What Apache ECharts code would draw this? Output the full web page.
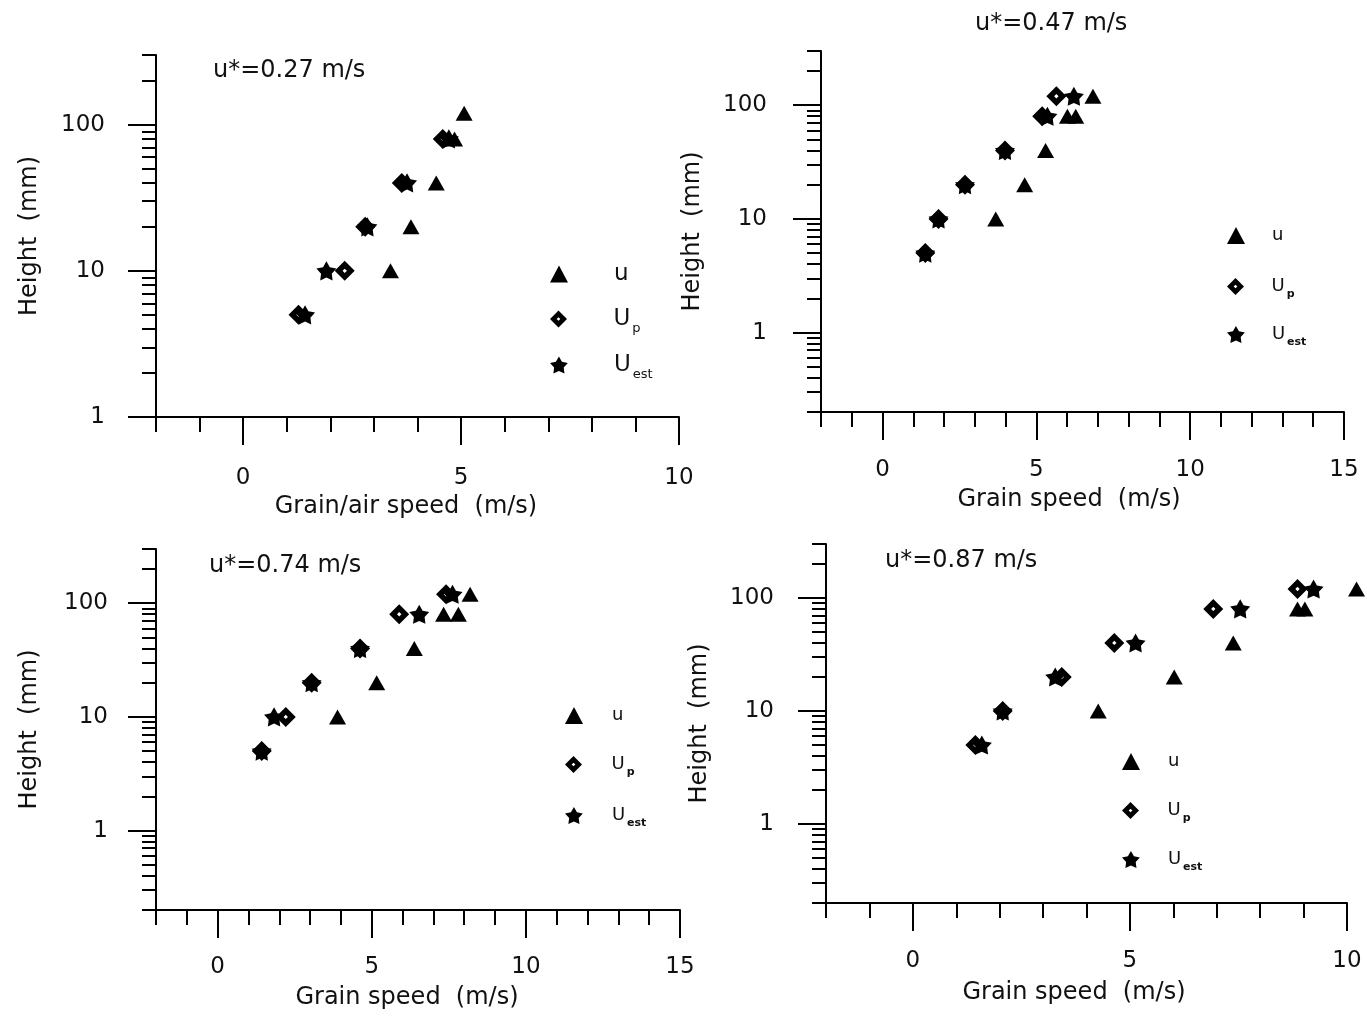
<!DOCTYPE html>
<html><head><meta charset="utf-8">
<script src="https://cdn.jsdelivr.net/npm/echarts@6/dist/echarts.min.js"></script>
<style>html,body{margin:0;padding:0;background:#fff}#c{width:1367px;height:1016px}</style>
</head><body><div id="c"></div>
<script>
// ---------------- DATA ----------------
// [speed (m/s), height (mm)]
// Panel 1: u* = 0.27 m/s
const p1_u    = [[3.38,10],[3.85,20],[4.43,40],[4.85,80],[5.07,120]];
const p1_Up   = [[1.27,5],[2.33,10],[2.80,20],[3.64,40],[4.58,80]];
const p1_Uest = [[1.42,5],[1.91,10],[2.85,20],[3.76,40],[4.72,80]];
// Panel 2: u* = 0.47 m/s
const p2_u    = [[3.68,10],[4.62,20],[5.30,40],[6.01,80],[6.28,80],[6.84,120]];
const p2_Up   = [[1.39,5],[1.82,10],[2.68,20],[3.98,40],[5.19,80],[5.65,120]];
const p2_Uest = [[1.39,5],[1.82,10],[2.68,20],[3.98,40],[5.36,80],[6.22,120]];
// Panel 3: u* = 0.74 m/s
const p3_u    = [[3.89,10],[5.16,20],[6.38,40],[7.33,80],[7.81,80],[8.19,120]];
const p3_Up   = [[1.43,5],[2.21,10],[3.05,20],[4.62,40],[5.89,80],[7.41,120]];
const p3_Uest = [[1.43,5],[1.83,10],[3.05,20],[4.62,40],[6.54,80],[7.62,120]];
// Panel 4: u* = 0.87 m/s
const p4_u    = [[4.27,10],[6.02,20],[7.38,40],[8.86,80],[9.03,80],[10.22,120]];
const p4_Up   = [[1.44,5],[2.07,10],[3.43,20],[4.64,40],[6.92,80],[8.86,120]];
const p4_Uest = [[1.59,5],[2.07,10],[3.28,20],[5.13,40],[7.54,80],[9.23,120]];

// tick values
const heightMajorTicks = [1,10,100];
const heightMinorTicksP1 = [2,3,4,5,6,7,8,9,20,30,40,50,60,70,80,90,200,300];
const heightMinorTicksP234 = [0.2,0.3,0.4,0.5,0.6,0.7,0.8,0.9,2,3,4,5,6,7,8,9,20,30,40,50,60,70,80,90,200,300];
const speedMajorTicks10 = [0,5,10];
const speedMajorTicks15 = [0,5,10,15];

const titles = ['u*=0.27 m/s','u*=0.47 m/s','u*=0.74 m/s','u*=0.87 m/s'];
const xNames = ['Grain/air speed  (m/s)','Grain speed  (m/s)','Grain speed  (m/s)','Grain speed  (m/s)'];
const yName = 'Height  (mm)';
const seriesNames = ['u','Up','Uest'];

// ---------------- STYLE / LAYOUT ----------------
const FONT = 'DejaVu Sans';
const INK = '#000';
const TRI = 'triangle';
const DIA = 'path://M0,-10L10,0L0,10L-10,0ZM0,-2.2L-2.2,0L0,2.2L2.2,0Z';
const STAR = 'path://M0,-10L3.2,-4.3L9.5,-3.1L5.1,1.7L5.9,8.1L0,5.4L-5.9,8.1L-5.1,1.7L-9.5,-3.1L-3.2,-4.3Z';
const symbols = [TRI, DIA, STAR];
const symbolSizes = [[17,15],[20,20],[20,20]];

const panels = [
  {data:[p1_u,p1_Up,p1_Uest], grid:{left:156,top:55,width:523,height:362}, xMax:10, yMin:1,
   minorY:heightMinorTicksP1, majorX:speedMajorTicks10, xLabMargin:50, yLabMargin:51, yNameGap:114,
   title:{x:213,y:71}, xName:{x:406,y:507},
   legend:{left:550, tops:[262.5,307.5,353.5], pad:41, big:true}},
  {data:[p2_u,p2_Up,p2_Uest], grid:{left:821,top:51,width:523,height:361}, xMax:15, yMin:0.2,
   minorY:heightMinorTicksP234, majorX:speedMajorTicks15, xLabMargin:47, yLabMargin:54, yNameGap:116,
   title:{x:975,y:24}, xName:{x:1069,y:500},
   legend:{left:1227, tops:[226.5,277.5,325.5], pad:22, big:false}},
  {data:[p3_u,p3_Up,p3_Uest], grid:{left:156,top:549,width:524,height:361}, xMax:15, yMin:0.2,
   minorY:heightMinorTicksP234, majorX:speedMajorTicks15, xLabMargin:46, yLabMargin:48, yNameGap:114,
   title:{x:209,y:566}, xName:{x:407,y:998},
   legend:{left:565, tops:[706.5,755.5,806.5], pad:24, big:false}},
  {data:[p4_u,p4_Up,p4_Uest], grid:{left:826,top:544,width:521,height:359}, xMax:10, yMin:0.2,
   minorY:heightMinorTicksP234, majorX:speedMajorTicks10, xLabMargin:47, yLabMargin:52, yNameGap:114,
   title:{x:885,y:561}, xName:{x:1074,y:993},
   legend:{left:1122, tops:[752.5,801.5,850.5], pad:23, big:false}}
];

const YMAX = 300;
const lineStyle = {color: INK, width: 2};
const labelStyle = {color: '#111', fontFamily: FONT, fontSize: 23};

const option = {
  backgroundColor: '#fff',
  animation: false,
  grid: [], xAxis: [], yAxis: [], series: [], legend: [], graphic: []
};

function legendFormatter(name) {
  if (name === 'u') return '{m|u}';
  if (name === 'Up') return '{m|U}{s|p}';
  return '{m|U}{s|est}';
}

panels.forEach((p, k) => {
  option.grid.push(Object.assign({containLabel: false}, p.grid));
  // x axes: minor ticks (data axis) + major ticks/labels
  option.xAxis.push({
    gridIndex: k, type: 'value', position: 'bottom', min: -2, max: p.xMax, interval: 1,
    axisLine: {show: true, onZero: false, lineStyle},
    axisTick: {show: true, length: 15, lineStyle},
    axisLabel: {show: false}, splitLine: {show: false}
  });
  option.xAxis.push({
    gridIndex: k, type: 'value', position: 'bottom', min: -2, max: p.xMax,
    axisLine: {show: false, onZero: false},
    axisTick: {show: true, length: 28, customValues: p.majorX, lineStyle},
    axisLabel: Object.assign({show: true, customValues: p.majorX, margin: p.xLabMargin,
      formatter: v => String(v)}, labelStyle),
    splitLine: {show: false}
  });
  // y axes: log data axis (hidden) + minor/major tick overlays in log10 space
  option.yAxis.push({
    gridIndex: k, type: 'log', logBase: 10, position: 'left', min: p.yMin, max: YMAX, show: false
  });
  const lmin = Math.log10(p.yMin), lmax = Math.log10(YMAX);
  option.yAxis.push({
    gridIndex: k, type: 'value', position: 'left', min: lmin, max: lmax,
    axisLine: {show: true, onZero: false, lineStyle},
    axisTick: {show: true, length: 14, customValues: p.minorY.map(v => Math.log10(v)), lineStyle},
    axisLabel: {show: false}, splitLine: {show: false}
  });
  option.yAxis.push({
    gridIndex: k, type: 'value', position: 'left', min: lmin, max: lmax,
    axisLine: {show: false, onZero: false},
    axisTick: {show: true, length: 28, customValues: heightMajorTicks.map(v => Math.log10(v)), lineStyle},
    axisLabel: Object.assign({show: true, customValues: heightMajorTicks.map(v => Math.log10(v)),
      margin: p.yLabMargin, formatter: v => String(Math.round(Math.pow(10, v)))}, labelStyle),
    splitLine: {show: false},
    name: yName, nameLocation: 'middle', nameGap: p.yNameGap, nameRotate: 90,
    nameTextStyle: {color: '#111', fontFamily: FONT, fontSize: 24}
  });
  // series
  p.data.forEach((d, i) => {
    option.series.push({
      type: 'scatter', name: seriesNames[i], xAxisIndex: 2 * k, yAxisIndex: 3 * k,
      data: d, symbol: symbols[i], symbolSize: symbolSizes[i], symbolKeepAspect: true,
      itemStyle: {color: INK, opacity: 1}, clip: false, z: 3 + (i === 0 ? 0 : 1)
    });
  });
  // legends (one per item for exact placement)
  const L = p.legend;
  seriesNames.forEach((nm, i) => {
    option.legend.push({
      left: L.left, top: L.tops[i], orient: 'vertical', padding: 0, selectedMode: false,
      itemWidth: 18, itemHeight: 17,
      data: [{name: nm, icon: symbols[i], itemStyle: {color: INK}}],
      formatter: legendFormatter,
      textStyle: {
        padding: [0, 0, 0, L.pad], color: '#111', fontFamily: FONT,
        rich: L.big ? {
          m: {fontSize: 23, fontFamily: FONT, color: '#111'},
          s: {fontSize: 13, fontFamily: FONT, color: '#111', padding: [20, 0, 0, 2]}
        } : {
          m: {fontSize: 18, fontFamily: FONT, color: '#111'},
          s: {fontSize: 11, fontFamily: FONT, fontWeight: 'bold', color: '#111', padding: [16, 0, 0, 2]}
        }
      }
    });
  });
  // title & x-axis name
  option.graphic.push({
    type: 'text', x: p.title.x, y: p.title.y,
    style: {text: titles[k], fontFamily: FONT, fontSize: 24, fill: '#111', align: 'left', verticalAlign: 'middle'}
  });
  option.graphic.push({
    type: 'text', x: p.xName.x, y: p.xName.y,
    style: {text: xNames[k], fontFamily: FONT, fontSize: 24, fill: '#111', align: 'center', verticalAlign: 'middle'}
  });
});

const chart = echarts.init(document.getElementById('c'), null, {renderer: 'canvas'});
chart.setOption(option);
</script>
</body></html>
